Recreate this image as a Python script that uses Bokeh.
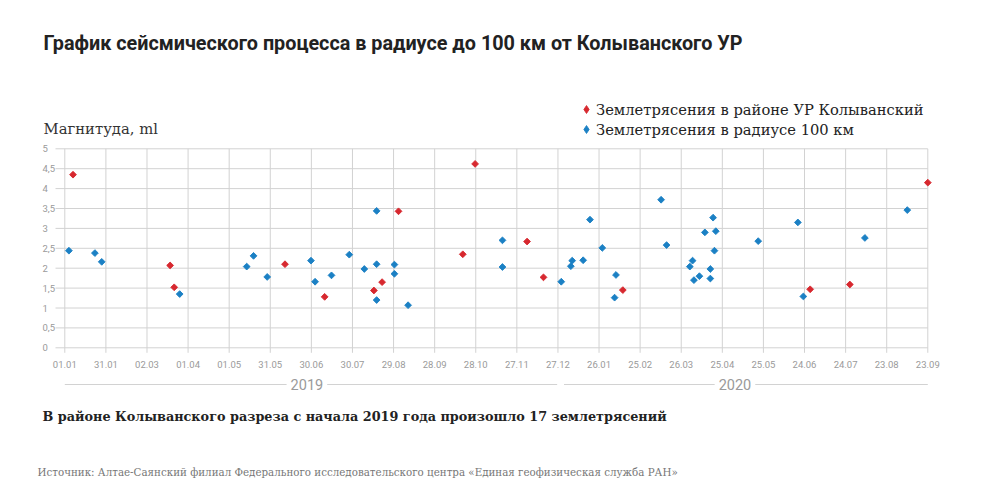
import numpy as np
import pandas as pd
from bokeh.plotting import figure
from bokeh.models import Range1d, Label, Legend, LegendItem
from bokeh.core.properties import value
from bokeh.embed import file_html
from bokeh.resources import INLINE

# ---------------- data ----------------
red_dates = ["2019-01-07", "2019-03-19", "2019-03-22", "2019-06-11", "2019-07-10",
             "2019-08-15", "2019-08-21", "2019-09-02", "2019-10-19", "2019-10-28",
             "2019-12-05", "2019-12-17", "2020-02-13", "2020-06-29", "2020-07-28",
             "2020-09-23"]
red_mag = [4.35, 2.07, 1.52, 2.10, 1.28, 1.44, 1.65, 3.43, 2.35, 4.62,
           2.67, 1.77, 1.45, 1.47, 1.59, 4.15]

blue_dates = ["2019-01-04", "2019-01-23", "2019-01-28", "2019-03-26", "2019-05-14",
              "2019-05-19", "2019-05-29", "2019-06-30", "2019-07-03", "2019-07-15",
              "2019-07-28", "2019-08-08", "2019-08-17", "2019-08-17", "2019-08-17",
              "2019-08-30", "2019-08-30", "2019-09-09", "2019-11-17", "2019-11-17",
              "2019-12-30", "2020-01-06", "2020-01-07", "2020-01-15", "2020-01-20",
              "2020-01-29", "2020-02-08", "2020-02-07", "2020-03-12", "2020-03-16",
              "2020-04-02", "2020-04-04", "2020-04-05", "2020-04-09", "2020-04-13",
              "2020-04-17", "2020-04-17", "2020-04-19", "2020-04-21", "2020-04-20",
              "2020-05-22", "2020-06-20", "2020-06-24", "2020-08-08", "2020-09-08"]
blue_mag = [2.44, 2.38, 2.16, 1.35, 2.04, 2.31, 1.78, 2.19, 1.66, 1.82,
            2.34, 1.98, 3.44, 2.10, 1.20, 2.09, 1.86, 1.07, 2.70, 2.03,
            1.66, 2.05, 2.19, 2.20, 3.22, 2.51, 1.83, 1.26, 3.72, 2.58,
            2.04, 2.19, 1.70, 1.80, 2.90, 1.98, 1.74, 3.27, 2.93, 2.44,
            2.68, 3.15, 1.29, 2.76, 3.46]

x_first_tick = "2019-01-01"
x_last_tick = "2020-09-23"
x_tick_labels = ["01.01", "31.01", "02.03", "01.04", "01.05", "31.05", "30.06", "30.07",
                 "29.08", "28.09", "28.10", "27.11", "27.12", "26.01", "25.02", "26.03",
                 "25.04", "25.05", "24.06", "24.07", "23.08", "23.09"]
y_ticks = [0, 0.5, 1, 1.5, 2, 2.5, 3, 3.5, 4, 4.5, 5]
y_tick_labels = ["0", "0,5", "1", "1,5", "2", "2,5", "3", "3,5", "4", "4,5", "5"]

years = ["2019", "2020"]
year_spans = [("2019-01-01", "2019-12-27"), ("2020-01-01", "2020-09-23")]
year_label_dates = ["2019-06-27", "2020-05-05"]

title = "График сейсмического процесса в радиусе до 100 км от Колыванского УР"
y_title = "Магнитуда, ml"
series_names = ["Землетрясения в районе УР Колыванский", "Землетрясения в радиусе 100 км"]
subtitle = "В районе Колыванского разреза с начала 2019 года произошло 17 землетрясений"
source = "Источник: Алтае-Саянский филиал Федерального исследовательского центра «Единая геофизическая служба РАН»"

# ---------------- styles ----------------
RED = "#d7282f"
BLUE = "#1b80c4"
GRID = "#d2d2d2"
TICK = "#9a9a9a"
SERIF = "DejaVu Serif"
W, H = 984, 492


def ms(d):
    return pd.Timestamp(d).value / 1e6


t0, t1 = ms(x_first_tick), ms(x_last_tick)
x_ticks = list(np.linspace(t0, t1, len(x_tick_labels)))

# pixel geometry of the plotting area (whole canvas is the frame)
X0_PX, X1_PX = 64.3, 927.3        # first / last x tick
Y0_PX, PX_PER_UNIT = 347.3, 39.8   # y=0 line, pixels per magnitude unit
px_per_ms = (X1_PX - X0_PX) / (t1 - t0)


def dx(px):  # pixel offset -> data offset along x
    return px / px_per_ms


def dy(px):
    return px / PX_PER_UNIT


p = figure(width=W, height=H, output_backend="svg", toolbar_location=None,
           min_border=0)
p.x_range = Range1d(t0 - dx(X0_PX), t0 + dx(W - X0_PX))
p.y_range = Range1d(-dy(H - Y0_PX), dy(Y0_PX))
p.xaxis.visible = False
p.yaxis.visible = False
p.grid.visible = False
p.outline_line_color = None
p.background_fill_color = "white"
p.border_fill_color = "white"

# ---------------- grid & ticks ----------------
grid_left = t0 - dx(9.3)
p.segment(x0=[grid_left] * len(y_ticks), x1=[t1] * len(y_ticks), y0=y_ticks, y1=y_ticks,
          line_color=GRID, line_width=1)
p.segment(x0=x_ticks, x1=x_ticks, y0=[-dy(5)] * len(x_ticks), y1=[5] * len(x_ticks),
          line_color=GRID, line_width=1)
p.text(x=x_ticks, y=[-dy(17)] * len(x_ticks), text=x_tick_labels,
       text_align="center", text_baseline="middle", text_font=value("Roboto"),
       text_font_size="9.5px", text_color=TICK)
p.text(x=[t0 - dx(X0_PX - 42)] * len(y_ticks), y=y_ticks, text=y_tick_labels,
       text_align="left", text_baseline="middle", text_font=value("Roboto"),
       text_font_size="9.5px", text_color=TICK)

# ---------------- year brackets ----------------
yl = -dy(384 - Y0_PX)
p.segment(x0=[ms(a) for a, b in year_spans], x1=[ms(b) for a, b in year_spans],
          y0=[yl, yl], y1=[yl, yl], line_color=GRID, line_width=1)
for yr, d in zip(years, year_label_dates):
    p.add_layout(Label(x=ms(d), y=yl, text=yr, text_align="center",
                       text_baseline="middle", text_font="Roboto",
                       text_font_size="14.5px", text_color=TICK,
                       background_fill_color="white", padding=4))

# ---------------- points ----------------
red_x = [ms(d) for d in red_dates]
blue_x = [ms(d) for d in blue_dates]
p.scatter(blue_x, blue_mag, marker="square", angle=np.pi / 4, size=4.8,
          fill_color=BLUE, line_color=BLUE, line_width=0.9)
p.scatter(red_x, red_mag, marker="square", angle=np.pi / 4, size=4.8,
          fill_color=RED, line_color=RED, line_width=0.9)

# legend glyphs (renderers with no drawable point, only shown inside the legend)
nan = np.array([np.nan])
lg_red = p.scatter(nan, nan, marker="diamond", fill_color=RED, line_color=RED, line_width=0.8)
lg_blue = p.scatter(nan, nan, marker="diamond", fill_color=BLUE, line_color=BLUE, line_width=0.8)

# legend: location is its bottom-left corner, measured from the frame's bottom-left
legend = Legend(items=[LegendItem(label=series_names[0], renderers=[lg_red]),
                       LegendItem(label=series_names[1], renderers=[lg_blue])],
                location=(576, H - 139), orientation="vertical",
                glyph_width=20, glyph_height=20, label_height=20, spacing=0,
                label_standoff=0, padding=0, margin=0,
                border_line_color=None, background_fill_alpha=0,
                label_text_font=SERIF, label_text_font_size="14.7px",
                label_text_color="#222222")
p.add_layout(legend, "center")


# ---------------- texts ----------------
def screen_label(text, x, y_top, font, size, color, style="normal"):
    p.add_layout(Label(x=x, y=H - y_top, x_units="screen", y_units="screen", text=text,
                       text_align="left", text_baseline="middle", text_font=font,
                       text_font_size=size, text_color=color, text_font_style=style))


screen_label(title, 43, 42.7, "Roboto", "19.8px", "#222222", "bold")
screen_label(y_title, 43, 128, SERIF, "14.8px", "#333333")
screen_label(subtitle, 42, 415.7, SERIF, "12.8px", "#222222", "bold")
screen_label(source, 37, 471.7, SERIF, "10.3px", "#777777")

open("out.html", "w").write(file_html(p, INLINE))
